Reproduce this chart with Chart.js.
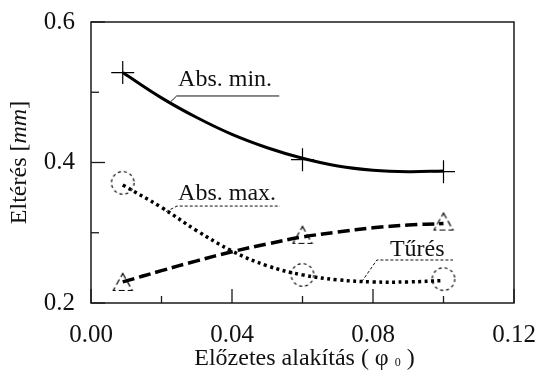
<!DOCTYPE html>
<html>
<head>
<meta charset="utf-8">
<script src="https://cdn.jsdelivr.net/npm/chart.js@4.4.1/dist/chart.umd.min.js"></script>
<style>
html,body{margin:0;padding:0;background:#fff;}
#wrap{width:538px;height:372px;position:relative;}
</style>
</head>
<body>
<div id="wrap"><canvas id="c" width="538" height="372"></canvas></div>
<script>
// ---- data ----
const xFit = [0.009, 0.02, 0.03, 0.04, 0.05, 0.06, 0.07, 0.08, 0.09, 0.10];
const absMinFit = [0.528, 0.492, 0.464, 0.440, 0.421, 0.406, 0.395, 0.389, 0.387, 0.388];
const absMaxFit = [0.368, 0.336, 0.303, 0.274, 0.253, 0.240, 0.233, 0.230, 0.230, 0.232];
const turesFit  = [0.230, 0.246, 0.260, 0.273, 0.284, 0.294, 0.301, 0.307, 0.311, 0.313];

const xMeas = [0.009, 0.06, 0.10];
const absMinMeas = [0.528, 0.404, 0.387];
const absMaxMeas = [0.371, 0.240, 0.234];
const turesMeas  = [0.230, 0.297, 0.316];

const xTickLabels = ['0.00', '0.04', '0.08', '0.12'];
const yTickLabels = ['0.2', '0.4', '0.6'];
const curveLabels = ['Abs. min.', 'Abs. max.', 'Tűrés'];
const xTitle = ['Előzetes alakítás ( φ ', '0', ' )'];
const yTitle = ['Eltérés [', 'mm', ']'];

const pts = (xs, ys) => xs.map((v, i) => ({x: v, y: ys[i]}));

// ---- dashed marker glyphs ----
function dashedCircle() {
  const c = document.createElement('canvas'); c.width = 26; c.height = 26;
  const g = c.getContext('2d');
  g.setLineDash([3, 3]); g.lineWidth = 1.2; g.strokeStyle = '#000';
  g.beginPath(); g.arc(13, 13, 11.3, 0, Math.PI * 2); g.stroke();
  return c;
}
function dashedTriangle() {
  const c = document.createElement('canvas'); c.width = 22; c.height = 20;
  const g = c.getContext('2d');
  g.setLineDash([6, 3]); g.lineWidth = 1.2; g.strokeStyle = '#000';
  g.beginPath(); g.moveTo(11, 1.5); g.lineTo(20.5, 18.5); g.lineTo(1.5, 18.5); g.closePath(); g.stroke();
  return c;
}

const FONT = '"Liberation Serif", "Times New Roman", serif';

const decor = {
  id: 'decor',
  afterDraw(chart) {
    const {ctx, chartArea: a, scales: {x, y}} = chart;
    ctx.save();
    // frame
    ctx.strokeStyle = '#1a1a1a'; ctx.lineWidth = 1.5; ctx.setLineDash([]);
    ctx.strokeRect(a.left, a.top, a.right - a.left, a.bottom - a.top);
    // inward ticks
    ctx.lineWidth = 1.3;
    x.ticks.forEach((t, i) => {
      const px = x.getPixelForValue(t.value);
      const len = i % 2 === 0 ? 14 : 7;
      ctx.beginPath(); ctx.moveTo(px, a.bottom); ctx.lineTo(px, a.bottom - len); ctx.stroke();
    });
    y.ticks.forEach((t, i) => {
      const py = y.getPixelForValue(t.value);
      const len = i % 2 === 0 ? 14 : 8;
      ctx.beginPath(); ctx.moveTo(a.left, py); ctx.lineTo(a.left + len, py); ctx.stroke();
    });

    // curve labels with leader lines (positions in data units)
    const X = v => x.getPixelForValue(v), Y = v => y.getPixelForValue(v);
    ctx.font = '24px ' + FONT; ctx.fillStyle = '#111'; ctx.textBaseline = 'alphabetic'; ctx.textAlign = 'left';
    const lab = [
      {t: curveLabels[0], tx: 0.0247, ty: 0.509, hy: 0.4947, x1: 0.0243, x2: 0.0534, ex: 0.0226, ey: 0.4865, dash: []},
      {t: curveLabels[1], tx: 0.0247, ty: 0.3466, hy: 0.338, x1: 0.0244, x2: 0.0536, ex: 0.0213, ey: 0.330, dash: [3, 2]},
      {t: curveLabels[2], tx: 0.0848, ty: 0.2669, hy: 0.2612, x1: 0.0811, x2: 0.1027, ex: 0.0768, ey: 0.2303, dash: [3, 2]}
    ];
    lab.forEach(l => {
      ctx.fillText(l.t, X(l.tx), Y(l.ty));
      ctx.setLineDash(l.dash); ctx.lineWidth = 1; ctx.strokeStyle = '#111';
      ctx.beginPath(); ctx.moveTo(X(l.ex), Y(l.ey)); ctx.lineTo(X(l.x1), Y(l.hy)); ctx.lineTo(X(l.x2), Y(l.hy)); ctx.stroke();
    });
    ctx.setLineDash([]);

    // x title with subscript
    const big = '24px ' + FONT, small = '12px ' + FONT;
    ctx.font = big; const w0 = ctx.measureText(xTitle[0]).width, w2 = ctx.measureText(xTitle[2]).width;
    ctx.font = small; const w1 = ctx.measureText(xTitle[1]).width;
    let sx = (a.left + a.right) / 2 - (w0 + w1 + w2) / 2 + 2; const by = 365;
    ctx.font = big; ctx.fillText(xTitle[0], sx, by); sx += w0;
    ctx.font = small; ctx.fillText(xTitle[1], sx, by + 1); sx += w1;
    ctx.font = big; ctx.fillText(xTitle[2], sx, by);

    // y title rotated, with italic unit
    const ital = 'italic 24px ' + FONT;
    ctx.font = big; const v0 = ctx.measureText(yTitle[0]).width, v2 = ctx.measureText(yTitle[2]).width;
    ctx.font = ital; const v1 = ctx.measureText(yTitle[1]).width;
    ctx.translate(26, (a.top + a.bottom) / 2); ctx.rotate(-Math.PI / 2);
    let s = -(v0 + v1 + v2) / 2;
    ctx.font = big; ctx.fillText(yTitle[0], s, 0); s += v0;
    ctx.font = ital; ctx.fillText(yTitle[1], s, 0); s += v1;
    ctx.font = big; ctx.fillText(yTitle[2], s, 0);
    ctx.restore();
  }
};

new Chart(document.getElementById('c'), {
  type: 'scatter',
  data: {
    datasets: [
      {label: curveLabels[0], data: pts(xFit, absMinFit), showLine: true, tension: 0.4, borderColor: '#000', borderWidth: 3, pointRadius: 0},
      {label: curveLabels[1], data: pts(xFit, absMaxFit), showLine: true, tension: 0.4, borderColor: '#000', borderWidth: 3.5, borderDash: [3, 3.5], pointRadius: 0},
      {label: curveLabels[2], data: pts(xFit, turesFit), showLine: true, tension: 0.4, borderColor: '#000', borderWidth: 3.5, borderDash: [12, 5], pointRadius: 0},
      {label: curveLabels[0] + ' pts', data: pts(xMeas, absMinMeas), showLine: false, pointStyle: 'cross', pointRadius: 11.5, borderColor: '#000', borderWidth: 1.2},
      {label: curveLabels[1] + ' pts', data: pts(xMeas, absMaxMeas), showLine: false, pointStyle: dashedCircle(), pointRadius: 12},
      {label: curveLabels[2] + ' pts', data: pts(xMeas, turesMeas), showLine: false, pointStyle: dashedTriangle(), pointRadius: 11}
    ]
  },
  options: {
    responsive: false,
    animation: false,
    events: [],
    layout: {padding: {left: 0, right: 24, top: 22, bottom: 0}},
    plugins: {legend: {display: false}, tooltip: {enabled: false}},
    scales: {
      x: {
        type: 'linear', min: 0, max: 0.12,
        grid: {display: false, drawTicks: false},
        border: {display: false},
        ticks: {
          stepSize: 0.02, padding: 17, color: '#111', autoSkip: false, maxRotation: 0,
          font: {family: FONT, size: 25},
          callback: (v, i) => (i % 2 === 0 ? xTickLabels[i / 2] : '')
        },
        afterFit: s => { s.height = 69; s.paddingLeft = 0; s.paddingRight = 0; }
      },
      y: {
        type: 'linear', min: 0.2, max: 0.6,
        grid: {display: false, drawTicks: false},
        border: {display: false},
        ticks: {
          stepSize: 0.1, padding: 16, color: '#111', autoSkip: false,
          font: {family: FONT, size: 25},
          callback: (v, i) => (i % 2 === 0 ? yTickLabels[i / 2] : '')
        },
        afterFit: s => { s.width = 91; s.paddingTop = 0; s.paddingBottom = 0; }
      }
    }
  },
  plugins: [decor]
});
</script>
</body>
</html>
